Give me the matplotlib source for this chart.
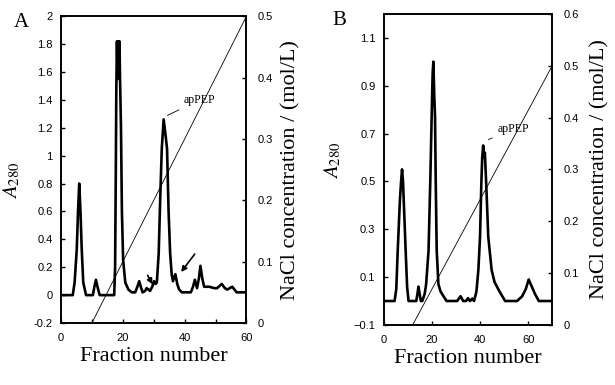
"""
Anion-exchange elution profiles (panels A and B)
A280 absorbance with NaCl gradient on a second axis
"""

import matplotlib
matplotlib.use("Agg")
import matplotlib.pyplot as plt
from matplotlib.ticker import MultipleLocator, FuncFormatter

# Panel A: absorbance profile
frac_a = [0, 3.8, 4.4, 5.1, 5.5, 5.9, 6.3, 6.7, 7.2, 8.1, 10.3, 10.8, 11.3, 11.8,
          12.5, 17.2, 17.5, 17.7, 17.9, 18.1, 18.3, 18.5, 18.7, 18.9, 19.1, 19.4,
          19.7, 20.1, 20.8, 21.8, 22.9, 24.0, 24.7, 25.3, 25.8, 26.4, 27.2, 27.7,
          28.3, 28.8, 29.5, 30.1, 30.6, 31.0, 31.6, 32.1, 32.6, 33.2, 33.8, 34.3,
          34.8, 35.3, 35.8, 36.2, 37.0, 37.6, 38.2, 39.1, 42.0, 42.7, 43.3, 44.0,
          44.6, 45.1, 45.7, 46.3, 48.0, 49.5, 50.5, 52.0, 53.0, 53.8, 55.4, 56.8,
          60.0]
a280_a = [0, 0, 0.09, 0.33, 0.6, 0.80, 0.6, 0.33, 0.09, 0, 0, 0.06, 0.11, 0.06,
          0, 0, 0.2, 0.8, 1.5, 1.82, 1.55, 1.82, 1.6, 1.82, 1.55, 1.2, 0.6, 0.25,
          0.09, 0.04, 0.02, 0.02, 0.06, 0.1, 0.06, 0.02, 0.03, 0.05, 0.04, 0.03,
          0.06, 0.1, 0.08, 0.09, 0.3, 0.7, 1.05, 1.26, 1.15, 1.05, 0.6, 0.3, 0.15,
          0.1, 0.15, 0.08, 0.04, 0.02, 0.02, 0.06, 0.11, 0.05, 0.12, 0.21, 0.12,
          0.06, 0.06, 0.05, 0.05, 0.08, 0.05, 0.04, 0.06, 0.02, 0.02]

# Panel B: absorbance profile
frac_b = [0, 4.5, 5.2, 5.8, 6.7, 7.2, 7.6, 8.0, 8.3, 9.1, 9.7, 10.3, 13.5, 14.0,
          14.4, 14.9, 15.4, 16.0, 17.0, 17.6, 18.6, 19.3, 19.9, 20.3, 20.6, 21.0,
          21.3, 21.6, 22.0, 22.7, 23.6, 24.8, 26.1, 30.5, 31.9, 33.0, 34.2, 35.0,
          35.8, 36.8, 37.5, 38.5, 39.3, 40.0, 40.5, 40.9, 41.3, 41.7, 42.0, 42.6,
          43.4, 44.8, 46.0, 47.8, 50.4, 55.4, 57.5, 59.0, 60.2, 61.5, 62.8, 64.4,
          70.0]
a280_b = [0, 0, 0.05, 0.21, 0.42, 0.5, 0.55, 0.5, 0.42, 0.21, 0.06, 0, 0, 0.03,
          0.06, 0.03, 0.0, 0.0, 0.03, 0.07, 0.21, 0.49, 0.77, 0.95, 1.0, 0.85, 0.77,
          0.49, 0.21, 0.07, 0.04, 0.02, 0, 0, 0.02, 0, 0.0, 0.012, 0, 0.01, 0,
          0.04, 0.13, 0.27, 0.48, 0.6, 0.65, 0.6, 0.62, 0.48, 0.27, 0.13, 0.08,
          0.045, 0, 0, 0.02, 0.05, 0.09, 0.06, 0.03, 0, 0]

# NaCl gradients (start, end)
grad_a_x = [10.0, 60.0]
grad_a_y = [0.0, 0.5]
grad_b_x = [12.0, 70.0]
grad_b_y = [0.0, 0.5]

serif = "Liberation Serif"
sans = "Liberation Sans"
plt.rcParams["mathtext.fontset"] = "stix"

trim = FuncFormatter(lambda v, p: f"{v:g}")


def style_axes(ax, ax2):
    for a in (ax, ax2):
        a.tick_params(direction="in", length=3, width=1, labelsize=8)
        for lab in a.get_xticklabels() + a.get_yticklabels():
            lab.set_fontfamily(sans)
        for sp in a.spines.values():
            sp.set_linewidth(1.2)
    ax.tick_params(axis="x", pad=7)
    ax.tick_params(axis="y", pad=6)
    ax2.tick_params(axis="y", pad=8)


fig = plt.figure(figsize=(6.15, 3.85), dpi=100)

# ---------- Panel A ----------
axA = fig.add_axes([0.0992, 0.161, 0.3016, 0.797])
axA.plot(frac_a, a280_a, color="black", linewidth=1.9)
axA.set_xlim(0, 60)
axA.set_ylim(-0.2, 2.0)
axA.set_xticks([0, 20, 40, 60])
axA.xaxis.set_minor_locator(MultipleLocator(10))
axA.tick_params(axis="x", which="minor", direction="in", length=3, width=1)
axA.set_yticks([-0.2, 0, 0.2, 0.4, 0.6, 0.8, 1.0, 1.2, 1.4, 1.6, 1.8, 2.0])
axA.yaxis.set_major_formatter(trim)
axA2 = axA.twinx()
axA2.plot(grad_a_x, grad_a_y, color="black", linewidth=0.6)
axA2.set_ylim(0, 0.5)
axA2.set_yticks([0, 0.1, 0.2, 0.3, 0.4, 0.5])
axA2.yaxis.set_major_formatter(trim)
style_axes(axA, axA2)
axA.set_xlabel("Fraction number", fontfamily=serif, fontsize=16, labelpad=3)
axA.set_ylabel("$\\mathit{A}_{280}$", fontsize=15)
axA.yaxis.set_label_coords(-0.21, 0.466)
axA2.set_ylabel("NaCl concentration / (mol/L)", fontfamily=serif,
                fontsize=16, labelpad=6)
axA.annotate("apPEP", xy=(33.6, 1.28), xytext=(39.8, 1.40),
             fontfamily=serif, fontsize=8.5, va="center",
             arrowprops=dict(arrowstyle="-", color="black", linewidth=0.6))
axA.annotate("", xy=(30.0, 0.06), xytext=(27.6, 0.16),
             arrowprops=dict(arrowstyle="-|>", color="black", linewidth=1.2,
                             mutation_scale=8))
axA.annotate("", xy=(38.3, 0.15), xytext=(43.8, 0.31),
             arrowprops=dict(arrowstyle="-|>", color="black", linewidth=1.2,
                             mutation_scale=8))
fig.text(0.022, 0.93, "A", fontfamily=serif, fontsize=15)

# ---------- Panel B ----------
axB = fig.add_axes([0.624, 0.156, 0.274, 0.808])
axB.plot(frac_b, a280_b, color="black", linewidth=1.9)
axB.set_xlim(0, 70)
axB.set_ylim(-0.1, 1.2)
axB.set_xticks([0, 20, 40, 60])
axB.set_yticks([-0.1, 0.1, 0.3, 0.5, 0.7, 0.9, 1.1])
axB2 = axB.twinx()
axB2.plot(grad_b_x, grad_b_y, color="black", linewidth=0.6)
axB2.set_ylim(0, 0.6)
axB2.set_yticks([0, 0.1, 0.2, 0.3, 0.4, 0.5, 0.6])
axB2.yaxis.set_major_formatter(trim)
style_axes(axB, axB2)
axB.set_xlabel("Fraction number", fontfamily=serif, fontsize=16, labelpad=3)
axB.set_ylabel("$\\mathit{A}_{280}$", fontsize=15)
axB.yaxis.set_label_coords(-0.24, 0.53)
axB2.set_ylabel("NaCl concentration / (mol/L)", fontfamily=serif,
                fontsize=16, labelpad=8)
axB.annotate("apPEP", xy=(42.4, 0.67), xytext=(47.3, 0.72),
             fontfamily=serif, fontsize=8.5, va="center",
             arrowprops=dict(arrowstyle="-", color="black", linewidth=0.6))
fig.text(0.54, 0.935, "B", fontfamily=serif, fontsize=15)

fig.savefig("out.png", dpi=100)
